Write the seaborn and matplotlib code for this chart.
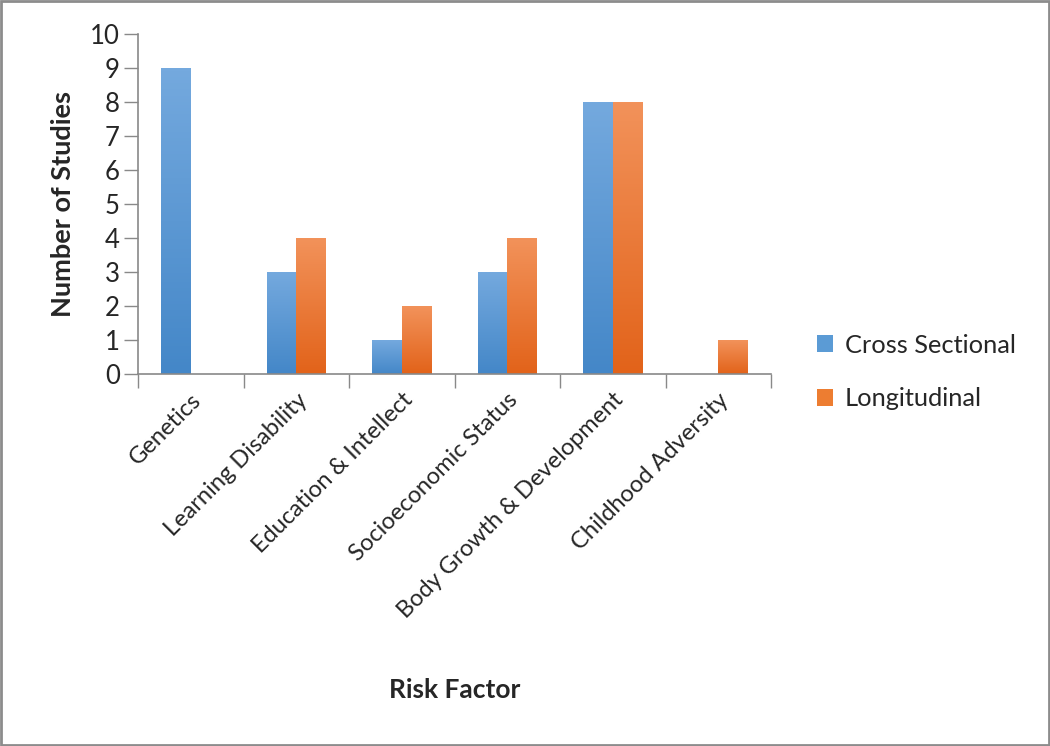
import numpy as np
import pandas as pd
import matplotlib
matplotlib.use("Agg")
import matplotlib.pyplot as plt
import seaborn as sns
from matplotlib.colors import LinearSegmentedColormap
from matplotlib.patches import Rectangle

categories = ["Genetics", "Learning Disability", "Education & Intellect",
              "Socioeconomic Status", "Body Growth & Development", "Childhood Adversity"]
cross_sectional = [9, 3, 1, 3, 8, 0]
longitudinal = [0, 4, 2, 4, 8, 1]
series_names = ["Cross Sectional", "Longitudinal"]
y_ticks = list(range(0, 11))

df = pd.DataFrame({
    "Risk Factor": categories * 2,
    "Number of Studies": cross_sectional + longitudinal,
    "Series": [series_names[0]] * len(categories) + [series_names[1]] * len(categories),
})

sns.set_theme(style="white")
plt.rcParams['font.family'] = ['Lato', 'DejaVu Sans']

blue = "#5b9bd5"
orange = "#ed7d31"
grad = {
    blue: ("#4487c8", "#74a9de"),
    orange: ("#e2631a", "#f2925a"),
}

fig = plt.figure(figsize=(10.5, 7.46), dpi=100)
ax = fig.add_axes([138/1050, 1 - 374/746, (771-138)/1050, (374-34)/746])

sns.barplot(data=df, x="Risk Factor", y="Number of Studies", hue="Series",
            palette=[blue, orange], width=0.56, ax=ax, legend=False,
            saturation=1, linewidth=0, errorbar=None)

# gradient fill
for patch in list(ax.patches):
    h = patch.get_height()
    if h <= 0:
        continue
    x0 = patch.get_x(); w = patch.get_width()
    fc = matplotlib.colors.to_hex(patch.get_facecolor()).lower()
    lo, hi = grad.get(fc, (fc, fc))
    cmap = LinearSegmentedColormap.from_list("g", [lo, hi])
    img = np.linspace(0, 1, 100).reshape(-1, 1)
    im = ax.imshow(img, cmap=cmap, origin="lower", aspect="auto",
                   extent=[x0, x0 + w, 0, h], zorder=patch.get_zorder() + 0.1)
    im.set_clip_path(patch)

ax.set_xlim(-0.5, 5.5)
ax.set_ylim(0, 10)
ax.set_yticks(y_ticks)
ax.set_yticklabels([str(t) for t in y_ticks], fontsize=18.5)
ax.set_xticks(range(len(categories)))
ax.set_xticklabels(categories, rotation=45, ha="right", rotation_mode="anchor", fontsize=17)
ax.set_xticks(np.arange(-0.5, 6, 1), minor=True)
ax.tick_params(axis="x", which="major", length=0, pad=11)
ax.tick_params(axis="x", which="minor", length=10, width=1, color="#898989", direction="out", bottom=True)
ax.tick_params(axis="y", which="major", length=10, width=1, color="#898989", direction="out", left=True, pad=3)

for s in ["top", "right"]:
    ax.spines[s].set_visible(False)
for s in ["left", "bottom"]:
    ax.spines[s].set_color("#898989")
    ax.spines[s].set_linewidth(1.2)

ax.set_ylabel("Number of Studies", fontsize=19.5, fontweight="bold", labelpad=11)
ax.set_xlabel("")
fig.text(455/1050, 1 - 690/746, "Risk Factor", fontsize=19, fontweight="bold",
         ha="center", va="center")

handles = [Rectangle((0, 0), 1, 1, facecolor=blue, edgecolor="none"),
           Rectangle((0, 0), 1, 1, facecolor=orange, edgecolor="none")]
fig.legend(handles, series_names, loc="center left",
           bbox_to_anchor=(794/1050, 1 - 372/746), frameon=False,
           fontsize=18.3, handlelength=0.65, handleheight=0.65,
           handletextpad=0.45, labelspacing=1.2)

# figure border
fig.patches.append(Rectangle((0.001, 0.001), 0.998, 0.997, transform=fig.transFigure,
                             fill=False, edgecolor="#8c8c8c", linewidth=2))

fig.savefig("out.png", dpi=100)
